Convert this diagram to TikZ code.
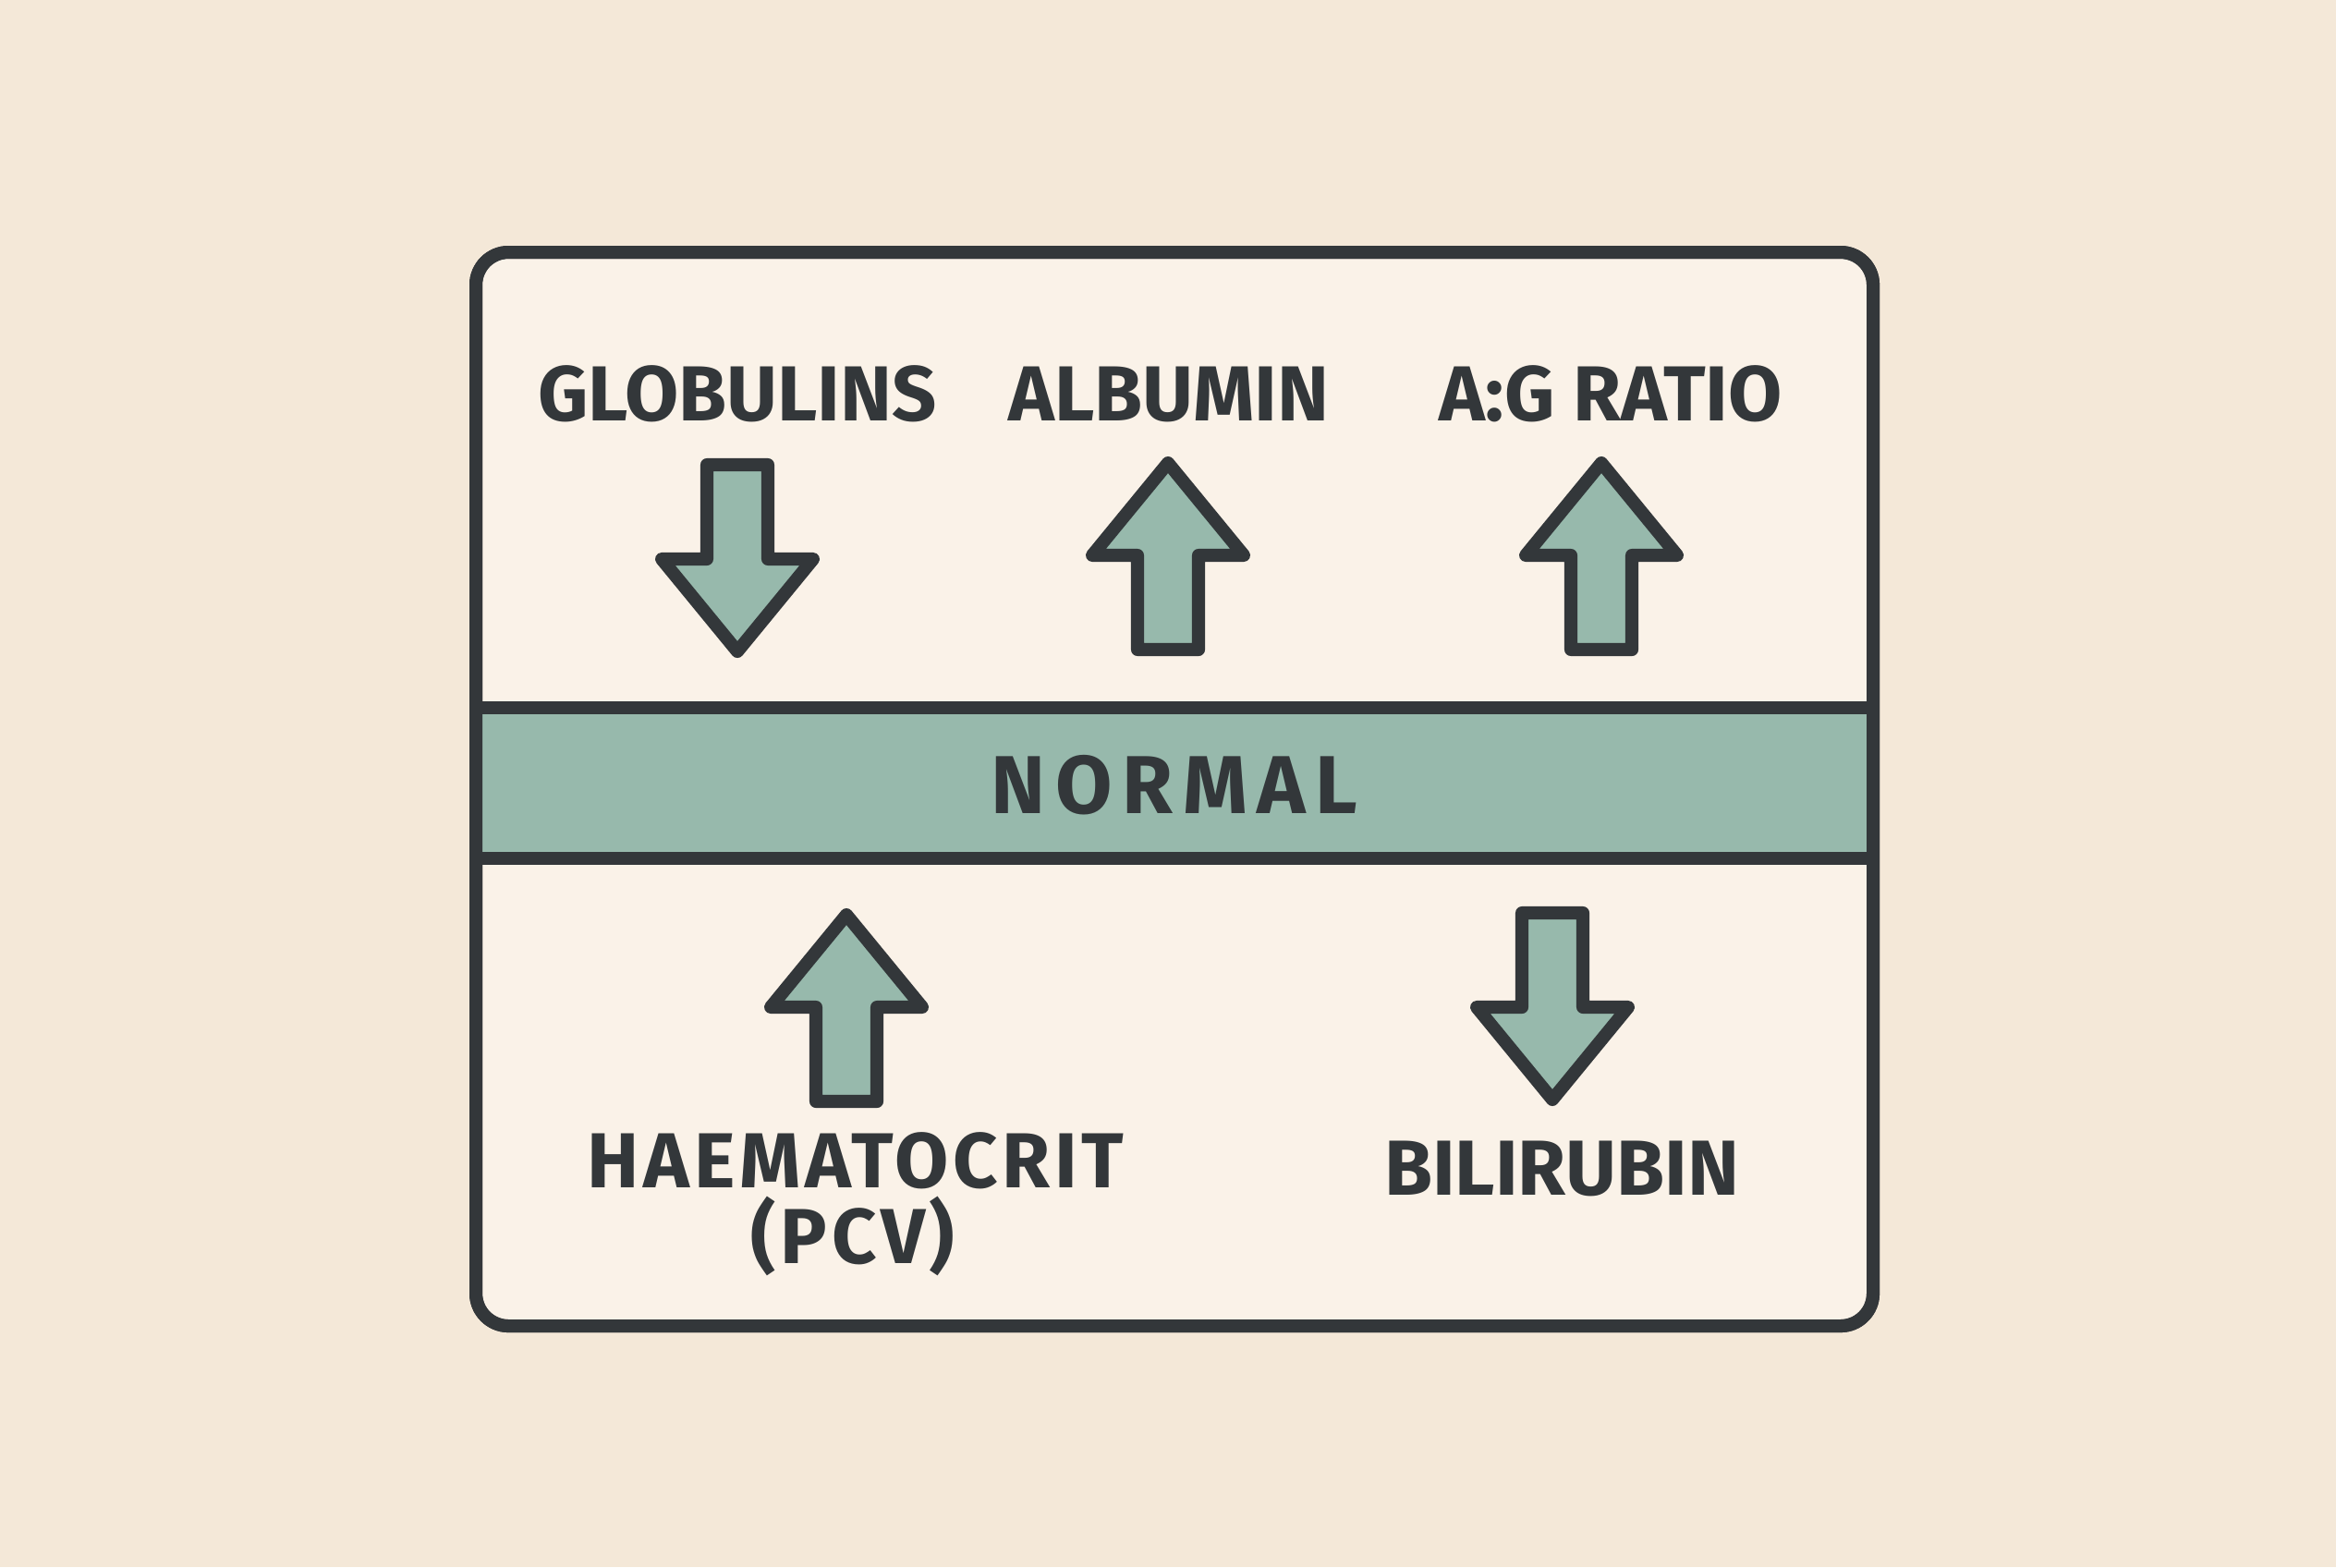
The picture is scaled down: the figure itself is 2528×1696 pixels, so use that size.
\documentclass[tikz,border=0pt]{standalone}
\usepackage{fontspec}
\setmainfont{Fira Sans}
\newfontfamily\spacedA[LetterSpace=12]{Fira Sans}
\newfontfamily\spacedB[LetterSpace=5.5]{Fira Sans}
\definecolor{bgc}{HTML}{F4E8D8}
\definecolor{panelc}{HTML}{FAF2E8}
\definecolor{inkc}{HTML}{33373A}
\definecolor{sagec}{HTML}{97B9AC}
\tikzset{
  arrowshape/.style={draw=inkc, fill=sagec, line width=4pt, line join=round},
  lbl/.style={inkc, font=\fontsize{24}{28}\selectfont\bfseries, anchor=base, inner sep=0},
  uparrow/.pic={\path[arrowshape] (0,0) -- (82,100) -- (33,100) -- (33,202) -- (-33,202) -- (-33,100) -- (-82,100) -- cycle;},
  downarrow/.pic={\path[arrowshape] (0,0) -- (82,-100) -- (33,-100) -- (33,-202) -- (-33,-202) -- (-33,-100) -- (-82,-100) -- cycle;},
  panelbox/.style={draw=inkc, line width=4pt, rounded corners=10pt, minimum width=1512*0.01cm, minimum height=1162*0.01cm, inner sep=0, anchor=north west}
}
\begin{document}
\begin{tikzpicture}[x=0.01cm,y=-0.01cm]
\fill[bgc] (0,0) rectangle (2528,1696);
\useasboundingbox (0,0) rectangle (2528,1696);
% panel
\node[panelbox, fill=panelc] (panel) at (508,266) {};
% band
\fill[sagec] (508,766) rectangle (2020,929);
\draw[inkc, line width=4pt] (508,766) -- (2020,766);
\draw[inkc, line width=4pt] (508,929) -- (2020,929);
\node[panelbox] (frame) at (508,266) {};
\node[lbl, font=\fontsize{25.3}{28}\selectfont\bfseries\spacedA] (normal) at (1271,880) {NORMAL};
% top labels
\node[lbl] (glob) at (798,455) {GLOBULINS};
\node[lbl] (alb) at (1265,455) {ALBUMIN};
\node[lbl] (ag) at (1743,455) {A:G RATIO};
% bottom labels
\node[lbl, font=\fontsize{24}{28}\selectfont\bfseries\spacedB] (haem) at (926,1285) {HAEMATOCRIT};
\node[lbl, font=\fontsize{24}{28}\selectfont\bfseries\spacedB] (pcv) at (923,1367) {(PCV)};
\node[lbl] (bili) at (1690,1293) {BILIRUBIN};
% arrows
\pic at (798,705) {downarrow};
\pic at (1264,501) {uparrow};
\pic at (1733,501) {uparrow};
\pic at (916,990) {uparrow};
\pic at (1680,1190) {downarrow};
\end{tikzpicture}
\end{document}
